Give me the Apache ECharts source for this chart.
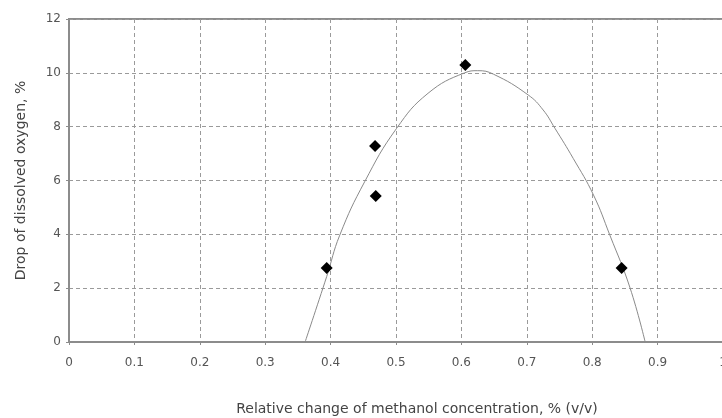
<!DOCTYPE html>
<html>
<head>
<meta charset="utf-8">
<script src="https://cdn.jsdelivr.net/npm/echarts@6/dist/echarts.min.js"></script>
<style>html,body{margin:0;padding:0;background:#fff}#c{width:722px;height:418px}</style>
</head>
<body>
<div id="c"></div>
<script>
// Measured points
var pointX = [0.394, 0.468, 0.469, 0.606, 0.845];
var pointY = [2.75, 7.28, 5.42, 10.29, 2.75];
// Fitted curve
var curveX = [0.361, 0.394, 0.414, 0.452, 0.501, 0.549, 0.605, 0.625, 0.649, 0.702, 0.725, 0.743, 0.771, 0.802, 0.827, 0.858, 0.881];
var curveY = [0.0, 2.43, 3.97, 5.95, 7.94, 9.24, 10.0, 10.08, 9.95, 9.18, 8.62, 7.94, 6.82, 5.46, 3.97, 2.0, 0.0];
var xTicks = [0, 0.1, 0.2, 0.3, 0.4, 0.5, 0.6, 0.7, 0.8, 0.9, 1];
var yTicks = [0, 2, 4, 6, 8, 10, 12];

var pts = pointX.map(function (x, i) { return [x, pointY[i]]; });
var crv = curveX.map(function (x, i) { return [x, curveY[i]]; });

var chart = echarts.init(document.getElementById('c'), null, {renderer: 'canvas'});
var font = 'DejaVu Sans, Liberation Sans, sans-serif';
chart.setOption({
  animation: false,
  backgroundColor: '#ffffff',
  grid: {left: 69, top: 19, width: 654, height: 323, outerBoundsMode: 'none', containLabel: false,
    show: true, borderColor: '#8c8c8c', borderWidth: 2, backgroundColor: 'transparent'},
  xAxis: {
    type: 'value', min: 0, max: 1, interval: 0.1,
    name: 'Relative change of methanol concentration, % (v/v)',
    nameLocation: 'middle', nameGap: 60,
    nameTextStyle: {fontFamily: font, fontSize: 14, color: '#444', padding: [0, 0, 0, 42]},
    axisLine: {show: true, lineStyle: {color: '#8c8c8c', width: 2}},
    axisTick: {show: true, length: 3, lineStyle: {color: '#8c8c8c'}},
    axisLabel: {fontFamily: font, fontSize: 12, color: '#555', margin: 15, hideOverlap: false,
      formatter: function (v) { return String(Math.round(v * 10) / 10); }},
    splitLine: {show: true, lineStyle: {color: '#9a9a9a', type: [4, 3], width: 1}}
  },
  yAxis: {
    type: 'value', min: 0, max: 12, interval: 2,
    name: 'Drop of dissolved oxygen, %',
    nameLocation: 'middle', nameGap: 41, nameRotate: 90,
    nameTextStyle: {fontFamily: font, fontSize: 14, color: '#444'},
    axisLine: {show: true, lineStyle: {color: '#8c8c8c', width: 2}},
    axisTick: {show: true, length: 3, lineStyle: {color: '#8c8c8c'}},
    axisLabel: {fontFamily: font, fontSize: 12, color: '#555', margin: 8},
    splitLine: {show: true, lineStyle: {color: '#9a9a9a', type: [4, 3], width: 1}}
  },
  series: [
    {
      type: 'line', data: crv, smooth: 0.45, showSymbol: false,
      lineStyle: {color: '#8a8a8a', width: 1}, z: 2
    },
    {
      type: 'scatter', data: pts,
      symbol: 'path://M0,-1 L1,0 L0,1 L-1,0 Z', symbolSize: 12,
      itemStyle: {color: '#000', opacity: 1}, z: 3
    }
  ]
});
</script>
</body>
</html>
